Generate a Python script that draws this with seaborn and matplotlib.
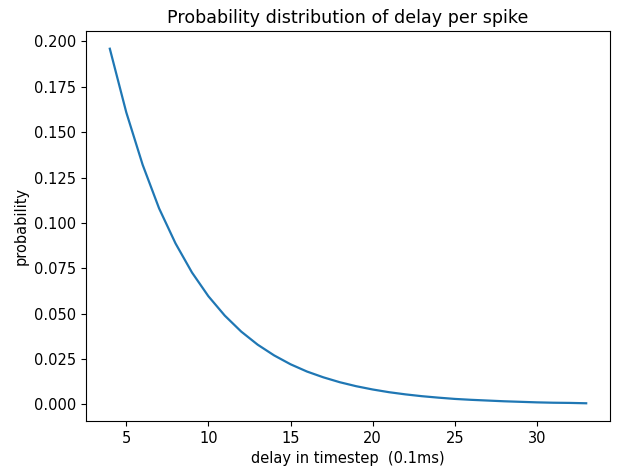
import matplotlib
matplotlib.use("Agg")
import matplotlib.pyplot as plt
import seaborn as sns
import pandas as pd

delay = list(range(4, 34))
probability = [0.196, 0.161, 0.132, 0.108, 0.0887, 0.0727, 0.0596, 0.0489, 0.0401, 0.0329,
               0.0270, 0.0221, 0.0181, 0.0149, 0.0122, 0.0100, 0.0082, 0.0067, 0.0055, 0.0045,
               0.0037, 0.0030, 0.0025, 0.0021, 0.0017, 0.0014, 0.0011, 0.0009, 0.0008, 0.0006]

df = pd.DataFrame({"delay": delay, "probability": probability})

plt.rcParams["font.size"] = 10.5

fig = plt.figure(figsize=(6.17, 4.70), dpi=100)
ax = fig.add_axes([86/617, 1 - 421/470, (610 - 86)/617, (421 - 31)/470])
sns.lineplot(data=df, x="delay", y="probability", ax=ax, color="#1f77b4", linewidth=1.6)
ax.set_title("Probability distribution of delay per spike", fontsize=12.6)
ax.set_xlabel("delay in timestep  (0.1ms)")
ax.set_ylabel("probability")
ax.set_yticks([0.0, 0.025, 0.05, 0.075, 0.1, 0.125, 0.15, 0.175, 0.2])
ax.set_yticklabels(["0.000", "0.025", "0.050", "0.075", "0.100", "0.125", "0.150", "0.175", "0.200"])
ax.set_xticks([5, 10, 15, 20, 25, 30])
fig.savefig("out.png", dpi=100)
